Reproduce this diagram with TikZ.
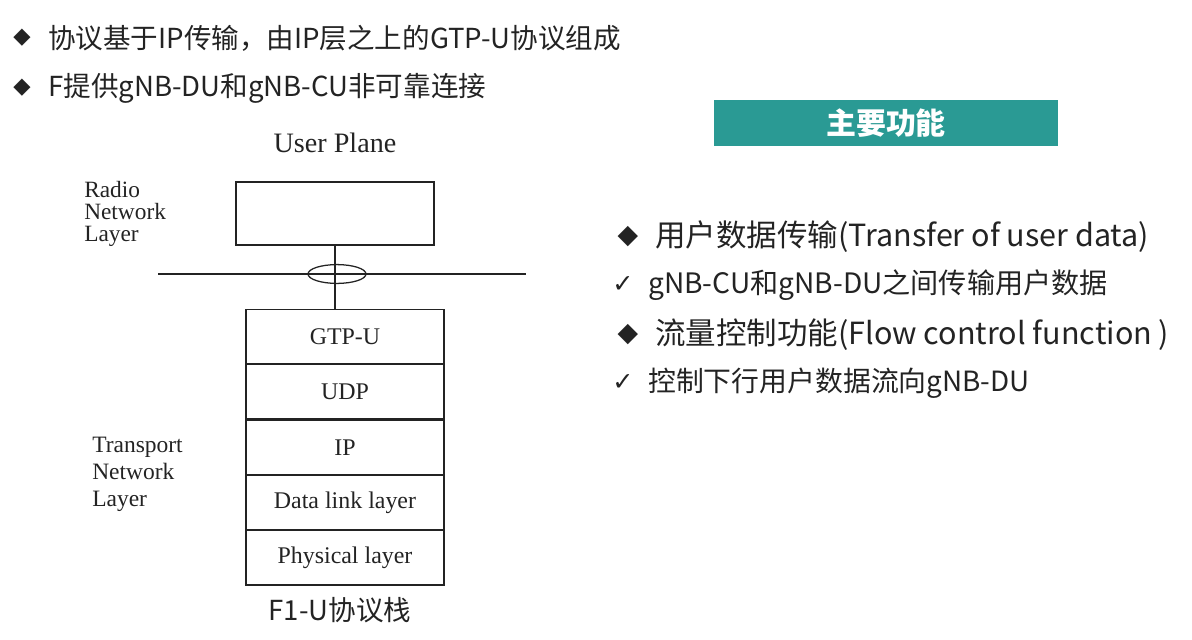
\documentclass[tikz,border=0pt]{standalone}
\usepackage{fontspec}
\setmainfont{Noto Sans CJK SC}
\newfontfamily\tnr{Liberation Serif}
\newfontfamily\sym{DejaVu Sans}
\usetikzlibrary{positioning}
\usetikzlibrary{shapes.geometric}
\usepackage{xcolor}
\definecolor{banner}{RGB}{42,154,148}
\definecolor{ink}{RGB}{35,35,35}

\begin{document}
\begin{tikzpicture}[x=0.025cm,y=-0.025cm,
  every node/.style={inner sep=0pt},
  layer/.style={draw=ink,line width=0.8pt,minimum width=4.95cm,minimum height=1.355cm,
    text=ink,font=\tnr\fontsize{17}{20}\selectfont},
  side/.style={anchor=north west,align=left,text=ink},
  point/.style={anchor=west,text=ink},
  glyph/.style={text=ink,font=\sym\fontsize{16}{18}\selectfont}]
\useasboundingbox (0,0) rectangle (1192,639);

% top bullets
\node [glyph] (d1) at (22,38) {◆};
\node [point,font=\fontsize{19.6}{22}\selectfont] (t1) at (48,38) {协议基于IP传输，由IP层之上的GTP-U协议组成};
\node [glyph] (d2) at (22,88) {◆};
\node [point,font=\fontsize{19.6}{22}\selectfont] (t2) at (48,88) {F提供gNB-DU和gNB-CU非可靠连接};

% user plane stack
\node [text=ink,font=\tnr\fontsize{20}{24}\selectfont] (up) at (335,143) {User Plane};
\node [side,font=\tnr\fontsize{16.6}{15.6}\selectfont] (rnl) at (84,181) {Radio\\Network\\Layer};
\node [draw=ink,line width=0.8pt,minimum width=4.95cm,minimum height=1.575cm] (rbox) at (335,213.5) {};
\coordinate (hl) at (158,274);
\coordinate (hr) at (526,274);
\draw [ink,line width=0.8pt] (hl) -- (hr);
\node [draw=ink,line width=0.9pt,ellipse,minimum width=1.45cm,minimum height=0.47cm] (ring) at (337,274) {};

\node [layer] (gtp) at (345,336.5) {GTP-U};
\node [layer,below=0 of gtp] (udp) {UDP};
\node [layer,below=0 of udp] (ip) {IP};
\node [layer,below=0 of ip] (dll) {Data link layer};
\node [layer,below=0 of dll] (phy) {Physical layer};
\draw [ink,line width=0.8pt] (rbox.south) -- (rbox.south |- gtp.north);

\node [side,font=\tnr\fontsize{16.7}{19.2}\selectfont] (tnl) at (92,437) {Transport\\Network\\Layer};
\node [text=ink,font=\fontsize{19.6}{22}\selectfont] (cap) at (340,610) {F1-U协议栈};

% main functions
\node [fill=banner,text=white,minimum width=8.6cm,minimum height=1.15cm,
  font=\bfseries\fontsize{21.3}{24}\selectfont] (func) at (886,123) {主要功能};
\node [glyph,font=\sym\fontsize{19}{20}\selectfont] (d3) at (628,237) {◆};
\node [point,font=\fontsize{21.7}{24}\selectfont] (f1) at (655,237) {用户数据传输(Transfer of user data)};
\node [glyph,font=\sym\fontsize{18}{20}\selectfont] (c1) at (623,285) {✓};
\node [point,font=\fontsize{20}{24}\selectfont] (f1a) at (648,285) {gNB-CU和gNB-DU之间传输用户数据};
\node [glyph,font=\sym\fontsize{19}{20}\selectfont] (d4) at (628,335) {◆};
\node [point,font=\fontsize{21.7}{24}\selectfont] (f2) at (655,335) {流量控制功能(Flow control function )};
\node [glyph,font=\sym\fontsize{18}{20}\selectfont] (c2) at (623,383) {✓};
\node [point,font=\fontsize{19.8}{24}\selectfont] (f2a) at (648,383) {控制下行用户数据流向gNB-DU};
\end{tikzpicture}
\end{document}
